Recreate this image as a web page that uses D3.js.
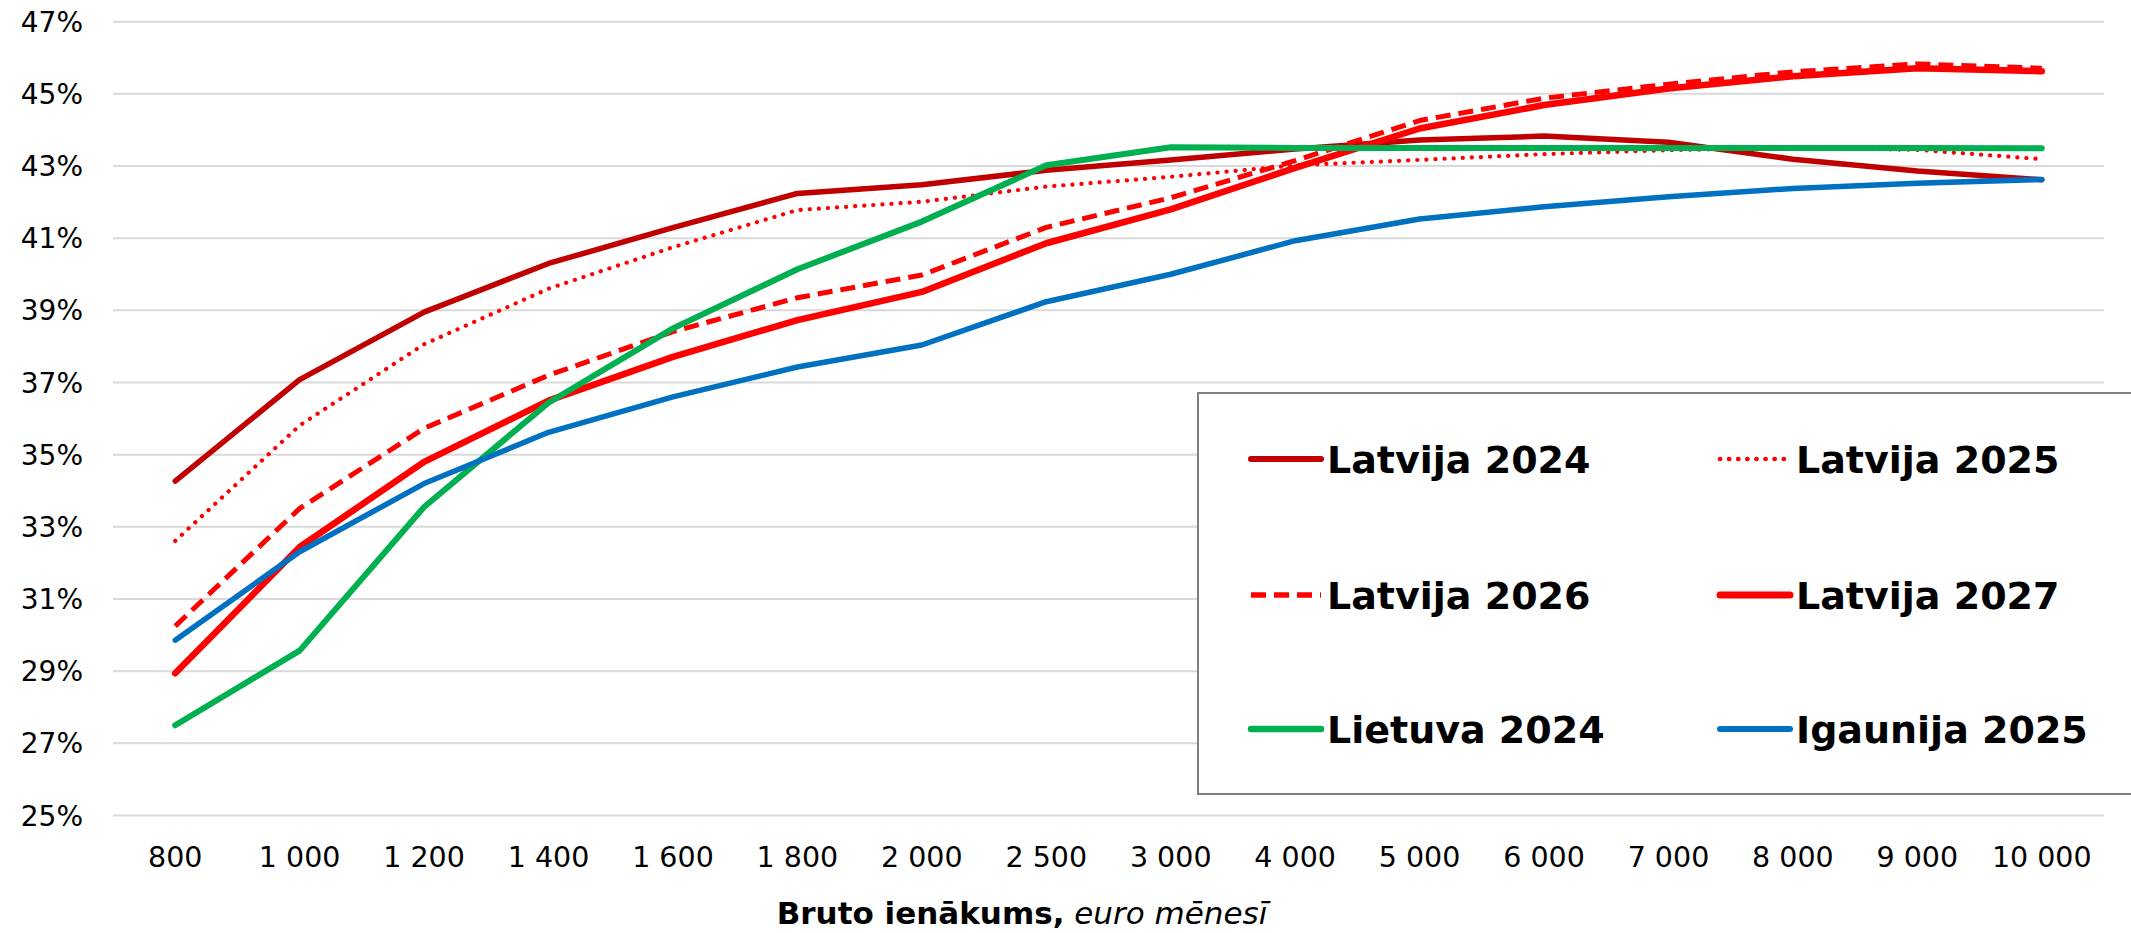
<!DOCTYPE html>
<html>
<head>
<meta charset="utf-8">
<script src="https://cdn.jsdelivr.net/npm/d3@7"></script>
<style>
  html, body { margin: 0; padding: 0; background: #fff; }
  svg { display: block; font-family: 'DejaVu Sans', Verdana, sans-serif; }
</style>
</head>
<body>
<div id="chart"></div>
<script>
// categories (gross income, euro per month)
const categories = ['800','1 000','1 200','1 400','1 600','1 800','2 000','2 500','3 000','4 000','5 000','6 000','7 000','8 000','9 000','10 000'];

// series values, %
const latvija2024 = [34.27, 37.08, 38.95, 40.30, 41.29, 42.24, 42.48, 42.88, 43.17, 43.47, 43.72, 43.83, 43.66, 43.19, 42.86, 42.62];
const latvija2025 = [32.61, 35.81, 38.06, 39.60, 40.75, 41.78, 42.01, 42.43, 42.70, 43.02, 43.17, 43.33, 43.44, 43.50, 43.45, 43.19];
const latvija2026 = [30.25, 33.51, 35.73, 37.20, 38.41, 39.35, 39.98, 41.30, 42.12, 43.15, 44.26, 44.88, 45.27, 45.61, 45.83, 45.71];
const latvija2027 = [28.94, 32.44, 34.80, 36.50, 37.71, 38.73, 39.51, 40.86, 41.80, 42.95, 44.04, 44.69, 45.15, 45.49, 45.71, 45.63];
const lietuva2024 = [27.50, 29.57, 33.55, 36.44, 38.50, 40.14, 41.46, 43.02, 43.52, 43.50, 43.50, 43.50, 43.50, 43.50, 43.50, 43.49];
const igaunija2025 = [29.86, 32.31, 34.20, 35.62, 36.60, 37.43, 38.04, 39.24, 40.00, 40.93, 41.53, 41.87, 42.15, 42.38, 42.52, 42.63];

// y tick labels
const yTicks = [25, 27, 29, 31, 33, 35, 37, 39, 41, 43, 45, 47];

const seriesNames = ['Latvija 2024','Latvija 2025','Latvija 2026','Latvija 2027','Lietuva 2024','Igaunija 2025'];
const seriesValues = [latvija2024, latvija2025, latvija2026, latvija2027, lietuva2024, igaunija2025];

// line styles per series
const styles = [
  { color: '#C00000', width: 5.5, dash: null,      cap: 'round' },
  { color: '#FF0000', width: 4.2, dash: '0.1,9',   cap: 'round' },
  { color: '#FF0000', width: 5,   dash: '15,8',    cap: 'butt' },
  { color: '#FF0000', width: 6.5, dash: null,      cap: 'round' },
  { color: '#00B050', width: 6,   dash: null,      cap: 'round' },
  { color: '#0070C0', width: 5.5, dash: null,      cap: 'round' }
];

const width = 2131, height = 933;
const plot = { left: 113, right: 2104, top: 21.7, bottom: 815.5 };

const svg = d3.select('#chart')
  .append('svg')
    .attr('width', width)
    .attr('height', height);

let x = d3.scalePoint()
  .domain(categories)
  .range([plot.left, plot.right])
  .padding(0.5);

let y = d3.scaleLinear()
  .domain([25, 47])
  .range([plot.bottom, plot.top]);

// gridlines
svg.append('g')
  .selectAll('line')
  .data(yTicks)
  .enter()
  .append('line')
    .attr('x1', plot.left)
    .attr('x2', plot.right)
    .attr('y1', d => y(d))
    .attr('y2', d => y(d))
    .attr('stroke', '#D9D9D9')
    .attr('stroke-width', 2);

// y labels
svg.append('g')
  .selectAll('text')
  .data(yTicks)
  .enter()
  .append('text')
    .attr('x', 83)
    .attr('y', d => y(d))
    .attr('dy', '0.36em')
    .attr('text-anchor', 'end')
    .style('font-size', '28px')
    .attr('fill', '#000')
    .text(d => d + '%');

// x labels
svg.append('g')
  .selectAll('text')
  .data(categories)
  .enter()
  .append('text')
    .attr('x', d => x(d))
    .attr('y', 857)
    .attr('dy', '0.36em')
    .attr('text-anchor', 'middle')
    .style('font-size', '28.5px')
    .attr('fill', '#000')
    .text(d => d);

// axis title
let title = svg.append('text')
  .attr('x', 1022)
  .attr('y', 924)
  .attr('text-anchor', 'middle')
  .style('font-size', '31px');
title.append('tspan').style('font-weight', 'bold').text('Bruto ienākums,');
title.append('tspan').style('font-style', 'italic').text(' euro mēnesī');

// lines
let lineGen = d3.line()
  .x((d, i) => x(categories[i]))
  .y(d => y(d));

seriesValues.forEach(function(vals, i) {
  let s = styles[i];
  svg.append('path')
    .datum(vals)
    .attr('d', lineGen)
    .attr('fill', 'none')
    .attr('stroke', s.color)
    .attr('stroke-width', s.width)
    .attr('stroke-linejoin', 'round')
    .attr('stroke-linecap', s.cap)
    .attr('stroke-dasharray', s.dash);
});

// legend
let legend = svg.append('g');
legend.append('rect')
  .attr('x', 1198)
  .attr('y', 393)
  .attr('width', 960)
  .attr('height', 401)
  .attr('fill', '#fff')
  .attr('stroke', '#808080')
  .attr('stroke-width', 2);

let legendItems = legend.selectAll('.item')
  .data(seriesNames)
  .enter()
  .append('g')
    .attr('class', 'item')
    .attr('transform', (d, i) => `translate(${i % 2 ? 1720 : 1251},${[459, 595, 729][Math.floor(i / 2)]})`);

legendItems.append('line')
  .attr('x1', 0)
  .attr('x2', 70)
  .attr('stroke', (d, i) => styles[i].color)
  .attr('stroke-width', (d, i) => styles[i].width + 0.5)
  .attr('stroke-linecap', (d, i) => styles[i].cap)
  .attr('stroke-dasharray', (d, i) => styles[i].dash);

legendItems.append('text')
  .attr('x', 76)
  .attr('dy', '0.36em')
  .style('font-size', '38px')
  .style('font-weight', 'bold')
  .text(d => d);
</script>
</body>
</html>
